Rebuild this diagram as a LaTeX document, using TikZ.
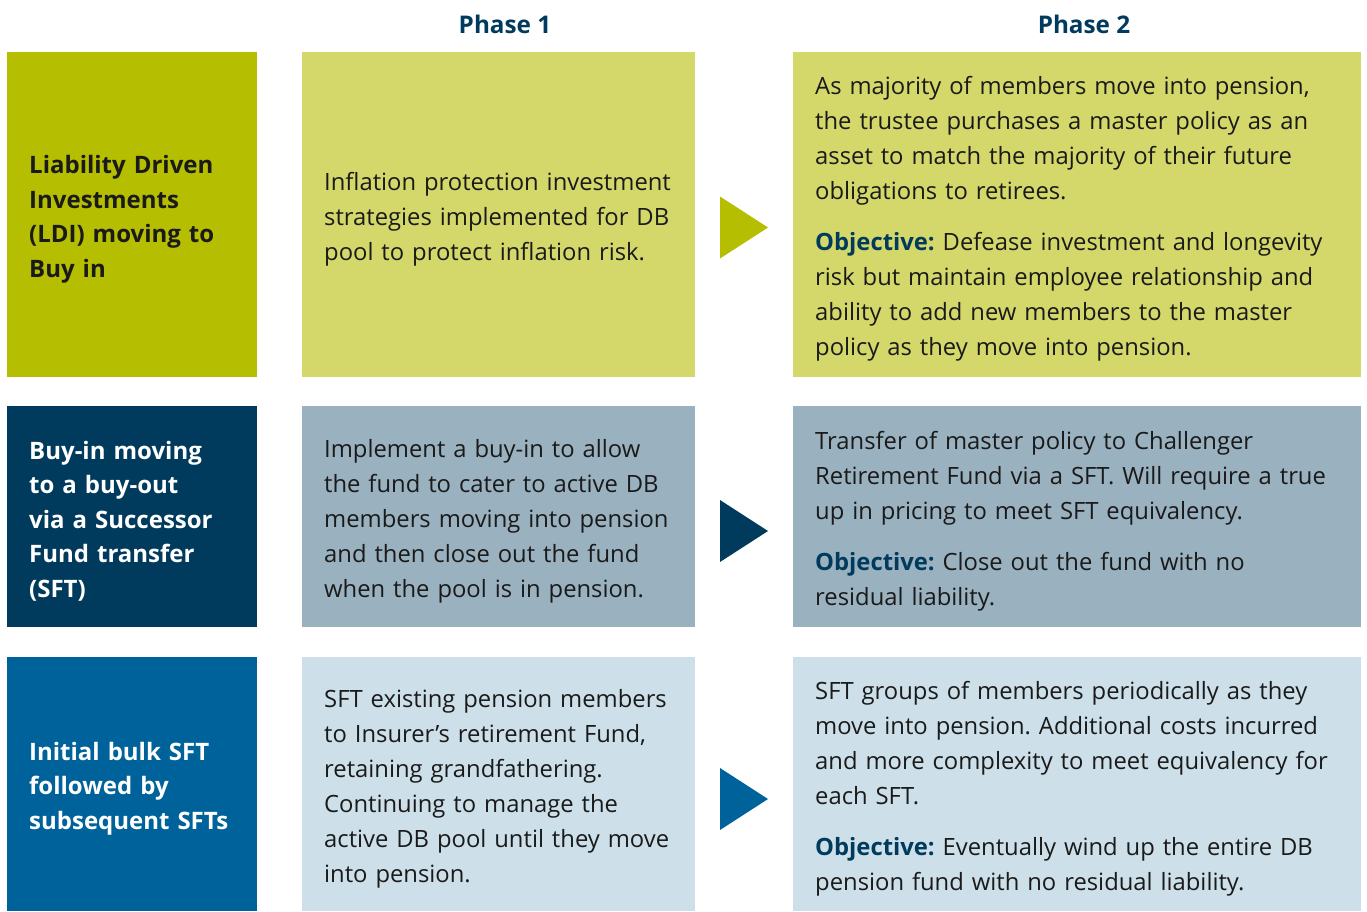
\documentclass[tikz,border=0pt]{standalone}
\usepackage{fontspec}
\setmainfont{Open Sans}
\frenchspacing

\definecolor{limedark}{HTML}{B5BE00}
\definecolor{limelight}{HTML}{D4D86A}
\definecolor{navy}{HTML}{003A5C}
\definecolor{greyblue}{HTML}{9AB1BF}
\definecolor{seablue}{HTML}{00629B}
\definecolor{paleblue}{HTML}{CDE0EA}
\definecolor{ink}{HTML}{1A1A1A}

\tikzset{
  cell/.style={anchor=north west, inner xsep=22pt, inner ysep=0pt, align=left,
    text=ink, font=\fontsize{23.8}{35}\selectfont,
    execute at end node={\par\vspace*{-9pt}}},
  title/.style={cell, font=\bfseries\fontsize{24}{34.5}\selectfont},
  phase/.style={text=navy, font=\bfseries\fontsize{24.3}{28}\selectfont},
}
\newcommand{\objective}{{\bfseries\color{navy}Objective:}}

\begin{document}
\begin{tikzpicture}[x=1pt, y=-1pt]
  \useasboundingbox (0,0) rectangle (1367,911);

  % column headings
  \node[phase] (ph1) at (505,24) {Phase 1};
  \node[phase] (ph2) at (1084,24) {Phase 2};

  % row 1
  \node[title, fill=limedark, text width=206pt, minimum height=325pt] (r1a) at (7,52)
    {Liability Driven\\Investments\\(LDI) moving to\\Buy in};
  \node[cell, fill=limelight, text width=349pt, minimum height=325pt] (r1b) at (302,52)
    {Inflation protection investment\\strategies implemented for DB\\pool to protect inflation risk.};
  \node[cell, fill=limelight, text width=524pt, minimum height=325pt] (r1c) at (793,52)
    {As majority of members move into pension,\\the trustee purchases a master policy as an\\asset to match the majority of their future\\obligations to retirees.\\[16pt]
     \objective{} Defease investment and longevity\\risk but maintain employee relationship and\\ability to add new members to the master\\policy as they move into pension.};

  % row 2
  \node[title, fill=navy, text=white, text width=206pt, minimum height=221pt] (r2a) at (7,406)
    {Buy-in moving\\to a buy-out\\via a Successor\\Fund transfer\\(SFT)};
  \node[cell, fill=greyblue, text width=349pt, minimum height=221pt] (r2b) at (302,406)
    {Implement a buy-in to allow\\the fund to cater to active DB\\members moving into pension\\and then close out the fund\\when the pool is in pension.};
  \node[cell, fill=greyblue, text width=524pt, minimum height=221pt] (r2c) at (793,406)
    {Transfer of master policy to Challenger\\Retirement Fund via a SFT. Will require a true\\up in pricing to meet SFT equivalency.\\[16pt]
     \objective{} Close out the fund with no\\residual liability.};

  % row 3
  \node[title, fill=seablue, text=white, text width=206pt, minimum height=254pt] (r3a) at (7,657)
    {Initial bulk SFT\\followed by\\subsequent SFTs};
  \node[cell, fill=paleblue, text width=349pt, minimum height=254pt] (r3b) at (302,657)
    {SFT existing pension members\\to Insurer’s retirement Fund,\\retaining grandfathering.\\Continuing to manage the\\active DB pool until they move\\into pension.};
  \node[cell, fill=paleblue, text width=524pt, minimum height=254pt] (r3c) at (793,657)
    {SFT groups of members periodically as they\\move into pension. Additional costs incurred\\and more complexity to meet equivalency for\\each SFT.\\[16pt]
     \objective{} Eventually wind up the entire DB\\pension fund with no residual liability.};

  % arrows between the phases
  \foreach \y/\c in {227.5/limedark, 531/navy, 799/seablue}
    \fill[\c] (720,\y-31) -- (768,\y) -- (720,\y+31) -- cycle;
\end{tikzpicture}
\end{document}
